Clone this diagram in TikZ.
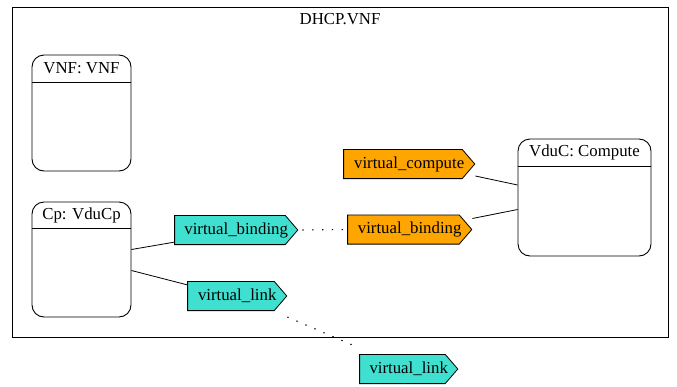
\documentclass[tikz,border=0pt]{standalone}
\usepackage{fontspec}
\setmainfont{Liberation Serif}
\definecolor{cyanfill}{HTML}{40E0D0}
\definecolor{orangefill}{HTML}{FFA500}
\tikzset{
  lbl/.style={font=\fontsize{16.8}{20}\selectfont, inner sep=0pt},
  umlbox/.style={draw, line width=0.9pt, rounded corners=12pt, inner sep=0pt},
  port/.style={rectangle, minimum height=30pt, inner sep=0pt, anchor=west,
    font=\fontsize{16.8}{20}\selectfont,
    path picture={
      \filldraw[fill=#1, line width=0.8pt]
        ([shift={(0.4pt,-0.4pt)}]path picture bounding box.north west)
        -- ([shift={(-13pt,-0.4pt)}]path picture bounding box.north east)
        -- ([xshift=-0.4pt]path picture bounding box.east)
        -- ([shift={(-13pt,0.4pt)}]path picture bounding box.south east)
        -- ([shift={(0.4pt,0.4pt)}]path picture bounding box.south west)
        -- cycle;
    }},
  conn/.style={line width=0.8pt},
  dotconn/.style={line width=1.1pt, dash pattern=on 1.3pt off 8.5pt},
}
\begin{document}
\begin{tikzpicture}[x=1pt,y=-1pt]
\useasboundingbox (0,0) rectangle (677,386);
% cluster
\node[draw, line width=0.8pt, minimum width=656pt, minimum height=330pt, inner sep=0pt] (cluster) at (340,172) {};
\node[lbl] (ctitle) at (340,19) {DHCP.VNF};
% VNF box
\node[umlbox, minimum width=99pt, minimum height=116pt] (vnf) at (81.5,113) {};
\draw[line width=0.9pt] ([yshift=-28pt]vnf.north west) -- ([yshift=-28pt]vnf.north east);
\node[lbl] (vnft) at ([yshift=-14pt]vnf.north) {VNF: VNF};
% Cp box
\node[umlbox, minimum width=99pt, minimum height=115pt] (cp) at (81.5,259.5) {};
\draw[line width=0.9pt] ([yshift=-27pt]cp.north west) -- ([yshift=-27pt]cp.north east);
\node[lbl] (cpt) at ([yshift=-13.5pt]cp.north) {Cp: VduCp};
% VduC box
\node[umlbox, minimum width=133pt, minimum height=117pt] (vduc) at (584.5,197.5) {};
\draw[line width=0.9pt] ([yshift=-28pt]vduc.north west) -- ([yshift=-28pt]vduc.north east);
\node[lbl] (vduct) at ([yshift=-14pt]vduc.north) {VduC: Compute};
% ports
\node[port=orangefill, minimum width=132pt] (vc) at (343,164) {virtual\_compute};
\node[port=orangefill, minimum width=125pt] (vbo) at (347,229.5) {virtual\_binding};
\node[port=cyanfill, minimum width=124pt] (vbc) at (174,230) {virtual\_binding};
\node[port=cyanfill, minimum width=100pt] (vl1) at (187,296) {virtual\_link};
\node[port=cyanfill, minimum width=99pt] (vl2) at (359,369) {virtual\_link};
% connectors
\draw[conn] ([yshift=10pt]cp.east) -- ([yshift=3pt]vbc.south west);
\draw[conn] ([yshift=-11pt]cp.east) -- ([yshift=-4pt]vl1.north west);
\draw[dotconn] ([xshift=4pt]vbc.east) -- (vbo.west);
\draw[conn] ([yshift=-12pt]vc.east) -- ([yshift=12.5pt]vduc.west);
\draw[conn] ([yshift=11pt]vbo.east) -- ([yshift=-12pt]vduc.west);
\draw[dotconn] ([yshift=-21pt]vl1.east) -- ([shift={(-7pt,9pt)}]vl2.north west);
\end{tikzpicture}
\end{document}
